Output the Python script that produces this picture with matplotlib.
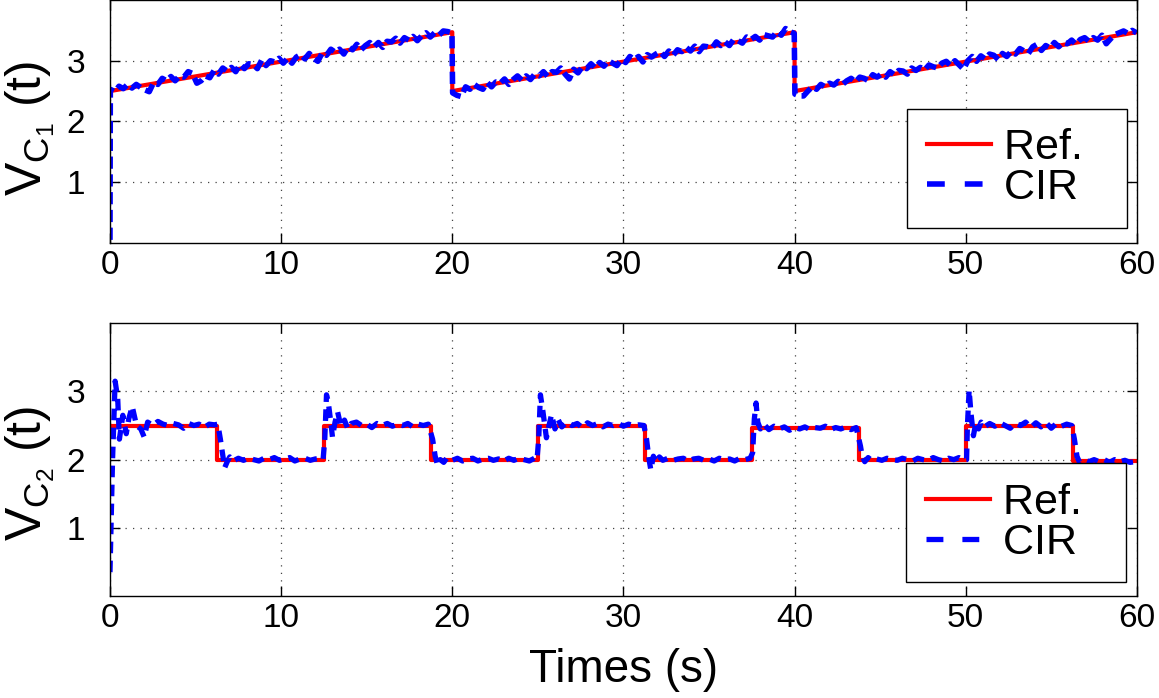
import numpy as np
import matplotlib
matplotlib.use("Agg")
import matplotlib.pyplot as plt

plt.rcParams['font.family'] = ['Liberation Sans', 'DejaVu Sans']
plt.rcParams['mathtext.fontset'] = 'custom'
plt.rcParams['mathtext.rm'] = 'Liberation Sans'
plt.rcParams['mathtext.it'] = 'Liberation Sans:italic'

# --- V_C1: sawtooth reference ---
vc1_ref_t = [0, 20, 20, 40, 40, 60]
vc1_ref_v = [2.50, 3.47, 2.50, 3.47, 2.50, 3.47]

# CIR response, start point then three ramps (80 samples each)
vc1_cir_start = (0.0, 0.05)
vc1_cir_seg1 = [2.53, 2.49, 2.58, 2.54, 2.61, 2.55, 2.61, 2.56, 2.52, 2.49,
                2.64, 2.61, 2.71, 2.67, 2.74, 2.67, 2.75, 2.73, 2.82, 2.79,
                2.63, 2.67, 2.75, 2.72, 2.84, 2.78, 2.88, 2.83, 2.89, 2.82,
                2.94, 2.87, 2.95, 2.94, 2.87, 3.01, 2.92, 3.00, 2.98, 3.04,
                2.96, 3.04, 2.96, 3.06, 3.10, 3.03, 3.12, 3.04, 2.99, 3.13,
                3.09, 3.19, 3.14, 3.19, 3.11, 3.23, 3.18, 3.27, 3.18, 3.25,
                3.30, 3.23, 3.30, 3.22, 3.32, 3.31, 3.37, 3.29, 3.38, 3.34,
                3.40, 3.33, 3.41, 3.46, 3.39, 3.46, 3.42, 3.49, 3.48, 3.46]
vc1_cir_seg2 = [2.47, 2.43, 2.41, 2.57, 2.53, 2.61, 2.56, 2.53, 2.64, 2.57,
                2.65, 2.63, 2.70, 2.61, 2.69, 2.75, 2.68, 2.75, 2.69, 2.78,
                2.75, 2.82, 2.74, 2.82, 2.81, 2.88, 2.78, 2.70, 2.86, 2.80,
                2.90, 2.87, 2.95, 2.88, 2.97, 2.91, 3.00, 2.96, 2.92, 3.02,
                2.97, 3.07, 3.02, 3.07, 2.98, 3.10, 3.06, 3.11, 3.15, 3.07,
                3.16, 3.09, 3.18, 3.15, 3.22, 3.16, 3.24, 3.15, 3.24, 3.23,
                3.21, 3.31, 3.25, 3.31, 3.25, 3.35, 3.33, 3.29, 3.39, 3.35,
                3.40, 3.34, 3.43, 3.41, 3.39, 3.48, 3.42, 3.53, 3.48, 3.45]
vc1_cir_seg3 = [2.45, 2.42, 2.42, 2.50, 2.57, 2.53, 2.61, 2.57, 2.63, 2.60,
                2.66, 2.61, 2.67, 2.71, 2.65, 2.73, 2.71, 2.67, 2.77, 2.73,
                2.78, 2.73, 2.82, 2.77, 2.84, 2.83, 2.78, 2.88, 2.84, 2.89,
                2.85, 2.93, 2.90, 2.88, 2.96, 2.99, 2.92, 3.00, 2.93, 2.86,
                3.00, 3.07, 2.99, 3.08, 3.03, 3.11, 3.09, 3.02, 3.12, 3.07,
                3.15, 3.11, 3.20, 3.16, 3.12, 3.23, 3.27, 3.17, 3.25, 3.21,
                3.30, 3.23, 3.30, 3.28, 3.34, 3.27, 3.35, 3.38, 3.32, 3.38,
                3.34, 3.42, 3.28, 3.36, 3.43, 3.46, 3.49, 3.45, 3.50, 3.46]

# --- V_C2: square-wave reference ---
vc2_switch_t = [0, 6.25, 12.5, 18.75, 25, 31.25, 37.5, 43.75, 50, 56.25, 60]
vc2_levels = [2.50, 2.00, 2.50, 2.00, 2.50, 2.00, 2.46, 2.00, 2.50, 1.98]

# CIR response (time, value)
vc2_cir = [
    (0.0, 0.35), (0.15, 2.0), (0.3, 3.15), (0.45, 2.9), (0.55, 2.3), (0.75, 2.65),
    (0.95, 2.38), (1.1, 2.6), (1.3, 2.78), (1.55, 2.5), (1.8, 2.45), (2.0, 2.33),
    (2.2, 2.55), (2.5, 2.5), (2.8, 2.56), (3.1, 2.52), (3.4, 2.5), (3.7, 2.53),
    (4.0, 2.51), (4.3, 2.46), (4.6, 2.53), (4.9, 2.5), (5.2, 2.52), (5.5, 2.47),
    (5.8, 2.52), (6.1, 2.51), (6.3, 2.52),
    (6.45, 2.3), (6.6, 2.05), (6.7, 1.88), (6.85, 1.97), (7.0, 2.04), (7.2, 1.98),
    (7.5, 2.02), (7.8, 1.99), (8.1, 2.02), (8.4, 2.0), (8.7, 1.98), (9.0, 2.02),
    (9.3, 2.0), (9.6, 2.03), (9.9, 1.99), (10.2, 2.01), (10.5, 2.03), (10.8, 1.98),
    (11.1, 2.01), (11.4, 2.02), (11.7, 1.99), (12.0, 2.01), (12.3, 2.02), (12.45, 2.0),
    (12.55, 2.3), (12.65, 2.95), (12.75, 2.85), (12.9, 2.55), (13.0, 2.33), (13.15, 2.55),
    (13.3, 2.7), (13.5, 2.48), (13.7, 2.58), (13.9, 2.45), (14.1, 2.53), (14.4, 2.55),
    (14.7, 2.5), (15.0, 2.52), (15.3, 2.47), (15.6, 2.53), (15.9, 2.5), (16.2, 2.53),
    (16.5, 2.49), (16.8, 2.52), (17.1, 2.5), (17.4, 2.53), (17.7, 2.48), (18.0, 2.52),
    (18.3, 2.5), (18.6, 2.52),
    (18.85, 2.3), (19.0, 2.05), (19.15, 1.91), (19.3, 2.0), (19.5, 1.96), (19.7, 2.03),
    (20.0, 1.99), (20.3, 2.02), (20.6, 1.98), (20.9, 2.01), (21.2, 2.02), (21.5, 1.98),
    (21.8, 2.01), (22.1, 2.02), (22.4, 1.99), (22.7, 2.01), (23.0, 1.98), (23.3, 2.02),
    (23.6, 1.99), (23.9, 2.02), (24.2, 2.0), (24.5, 1.98), (24.8, 2.02), (24.95, 2.0),
    (25.05, 2.3), (25.15, 2.95), (25.3, 2.7), (25.5, 2.32), (25.65, 2.5), (25.8, 2.66),
    (26.0, 2.45), (26.2, 2.58), (26.4, 2.48), (26.7, 2.55), (27.0, 2.5), (27.3, 2.53),
    (27.6, 2.47), (27.9, 2.54), (28.2, 2.5), (28.5, 2.53), (28.8, 2.48), (29.1, 2.52),
    (29.4, 2.5), (29.7, 2.53), (30.0, 2.49), (30.3, 2.52), (30.6, 2.5), (30.9, 2.51),
    (31.2, 2.5),
    (31.35, 2.3), (31.5, 2.0), (31.6, 1.85), (31.75, 2.05), (31.9, 1.96), (32.1, 2.04),
    (32.3, 1.99), (32.6, 2.02), (32.9, 1.99), (33.2, 2.01), (33.5, 2.02), (33.8, 1.98),
    (34.1, 2.01), (34.4, 2.02), (34.7, 1.99), (35.0, 2.01), (35.3, 1.98), (35.6, 2.02),
    (35.9, 2.0), (36.2, 2.01), (36.5, 1.98), (36.8, 2.02), (37.1, 2.0), (37.4, 2.02),
    (37.55, 2.1), (37.65, 2.6), (37.75, 2.83), (37.85, 2.55), (38.0, 2.45), (38.2, 2.52),
    (38.5, 2.44), (38.8, 2.49), (39.1, 2.45), (39.4, 2.48), (39.7, 2.43), (40.0, 2.47),
    (40.3, 2.45), (40.6, 2.48), (40.9, 2.44), (41.2, 2.47), (41.5, 2.46), (41.8, 2.49),
    (42.1, 2.44), (42.4, 2.47), (42.7, 2.45), (43.0, 2.48), (43.3, 2.44), (43.6, 2.47),
    (43.85, 2.2), (43.95, 2.05), (44.1, 1.97), (44.3, 2.03), (44.5, 1.99), (44.8, 2.01),
    (45.1, 1.99), (45.4, 2.02), (45.7, 2.0), (46.0, 1.99), (46.3, 2.02), (46.6, 2.0),
    (46.9, 1.98), (47.2, 2.02), (47.5, 2.0), (47.8, 1.99), (48.1, 2.03), (48.4, 2.0),
    (48.7, 1.98), (49.0, 2.02), (49.3, 2.0), (49.6, 2.03), (49.9, 1.99), (50.05, 2.0),
    (50.1, 2.5), (50.2, 3.02), (50.3, 2.7), (50.45, 2.35), (50.6, 2.55), (50.75, 2.45),
    (50.9, 2.55), (51.1, 2.48), (51.4, 2.53), (51.7, 2.49), (52.0, 2.54), (52.3, 2.5),
    (52.6, 2.46), (52.9, 2.53), (53.2, 2.5), (53.5, 2.55), (53.8, 2.47), (54.1, 2.54),
    (54.4, 2.48), (54.7, 2.54), (55.0, 2.46), (55.3, 2.53), (55.6, 2.49), (55.9, 2.52),
    (56.2, 2.5),
    (56.35, 2.3), (56.5, 2.05), (56.65, 1.96), (56.9, 2.0), (57.2, 1.97), (57.5, 2.0),
    (57.8, 1.97), (58.1, 2.0), (58.4, 1.96), (58.7, 2.0), (59.0, 1.97), (59.3, 1.99),
    (59.6, 1.96), (59.9, 1.97),
]

x_ticks = [0, 10, 20, 30, 40, 50, 60]
y_ticks = [1, 2, 3]

# time base of the V_C1 CIR samples
t1 = np.concatenate([[vc1_cir_start[0]],
                     np.linspace(0.02, 19.98, 80),
                     np.linspace(20.02, 39.98, 80),
                     np.linspace(40.02, 59.98, 80)])
v1 = np.concatenate([[vc1_cir_start[1]], vc1_cir_seg1, vc1_cir_seg2, vc1_cir_seg3])
t2, v2 = zip(*vc2_cir)
ref2_v = vc2_levels + [vc2_levels[-1]]

fig = plt.figure(figsize=(11.59, 6.98), dpi=100)
ax1 = fig.add_axes([0.0949, 0.652, 0.886, 0.348])
ax2 = fig.add_axes([0.0949, 0.146, 0.886, 0.391])

ax1.plot(vc1_ref_t, vc1_ref_v, color='red', lw=3, label='Ref.  ')
ax1.plot(t1, v1, color='blue', lw=4, dashes=(2.2, 1.0), label='CIR  ')
ax2.step(vc2_switch_t, ref2_v, where='post', color='red', lw=3, label='Ref.  ')
ax2.plot(t2, v2, color='blue', lw=3.8, dashes=(2.2, 1.4), label='CIR  ')

for ax, anchor in [(ax1, (0.990, 0.062)), (ax2, (0.989, 0.051))]:
    ax.set_xlim(0, 60)
    ax.set_ylim(0, 4)
    ax.set_xticks(x_ticks)
    ax.set_yticks(y_ticks)
    ax.grid(True, color='#444444', linestyle=(0, (1, 5)), lw=0.9)
    ax.tick_params(axis='both', direction='in', top=True, right=True,
                   length=7, width=1, labelsize=24)
    ax.tick_params(axis='x', pad=5)
    ax.tick_params(axis='y', pad=18)
    for s in ax.spines.values():
        s.set_linewidth(1)
    leg = ax.legend(loc='lower right', bbox_to_anchor=anchor, borderaxespad=0,
                    fontsize=31, fancybox=False, framealpha=1, edgecolor='black',
                    handlelength=1.5, handletextpad=0.3, labelspacing=0.0,
                    borderpad=0.45)
    leg.get_frame().set_linewidth(1)
    leg.legend_handles[1].set_dashes((3.2, 3.6))

ax1.set_ylabel(r'$\mathrm{V_{C_1}}$ (t)', fontsize=36)
ax1.yaxis.set_label_coords(-0.052, 0.47)
ax2.set_ylabel(r'$\mathrm{V_{C_2}}$ (t)', fontsize=36)
ax2.yaxis.set_label_coords(-0.052, 0.45)
ax2.set_xlabel('Times (s)', fontsize=33, labelpad=10)

fig.savefig('out.png', dpi=100)
